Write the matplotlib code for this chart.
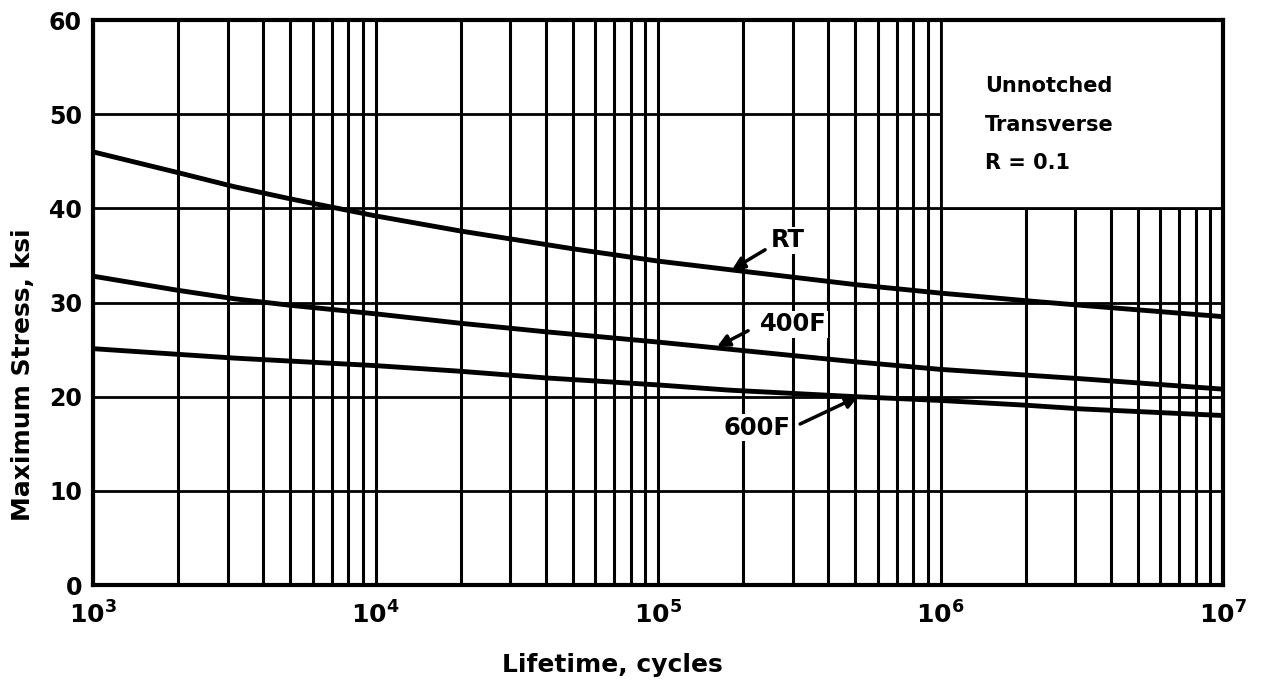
import numpy as np
import matplotlib
matplotlib.use("Agg")
import matplotlib.pyplot as plt
from matplotlib.patches import Rectangle

plt.rcParams['font.family'] = ['DejaVu Sans']
plt.rcParams['font.weight'] = 'bold'
plt.rcParams['mathtext.fontset'] = 'custom'
plt.rcParams['mathtext.rm'] = 'DejaVu Sans:bold'
plt.rcParams['mathtext.default'] = 'rm'

# curves (log10 of cycles, ksi)
rt_logn = [3.0, 3.3, 3.5, 3.7, 4.0, 4.3, 4.7, 5.0, 5.25, 5.7, 6.0, 6.3, 6.5, 7.0]
rt_ksi = [46.0, 43.8, 42.3, 41.0, 39.2, 37.6, 35.7, 34.4, 33.5, 31.9, 31.0, 30.2, 29.7, 28.5]

f400_logn = [3.0, 3.3, 3.5, 3.7, 4.0, 4.3, 4.6, 5.0, 5.3, 5.7, 6.0, 6.3, 6.5, 7.0]
f400_ksi = [32.8, 31.3, 30.4, 29.7, 28.8, 27.8, 26.9, 25.8, 24.9, 23.7, 22.9, 22.3, 21.9, 20.8]

f600_logn = [3.0, 3.3, 3.5, 4.0, 4.3, 4.6, 5.0, 5.25, 5.7, 6.0, 6.3, 6.5, 7.0]
f600_ksi = [25.1, 24.5, 24.1, 23.3, 22.7, 22.0, 21.25, 20.7, 20.0, 19.6, 19.1, 18.7, 18.0]

# label text, text position, arrow tail, arrow head (log10 N, ksi)
labels = ['RT', '400F', '600F']
label_pos = [(5.46, 36.6), (5.478, 27.7), (5.35, 16.7)]
arrow_tail = [(5.379, 35.6), (5.319, 27.0), (5.503, 17.1)]
arrow_head = [(5.262, 33.5), (5.209, 25.3), (5.708, 20.0)]

box_lines = ['Unnotched', 'Transverse', 'R = 0.1']
box_y = [53.0, 48.8, 44.8]

fig = plt.figure(figsize=(12.67, 6.86), dpi=100)
ax = fig.add_axes([0.0734, 0.1472, 0.8919, 0.8236])

ax.set_xscale('log')
ax.set_xlim(1e3, 1e7)
ax.set_ylim(0, 60)

ax.set_axisbelow(True)
ax.set_yticks(np.arange(0, 61, 10))
ax.set_xticks([1e3, 1e4, 1e5, 1e6, 1e7])
ax.set_xticklabels([r'$10^{%d}$' % e for e in range(3, 8)])
ax.xaxis.set_minor_locator(matplotlib.ticker.LogLocator(base=10, subs=np.arange(2, 10)))
ax.xaxis.set_minor_formatter(matplotlib.ticker.NullFormatter())
ax.grid(True, which='both', axis='x', color='black', lw=2.2)
ax.grid(True, which='major', axis='y', color='black', lw=2.0)
ax.tick_params(which='both', length=0)
ax.tick_params(axis='y', labelsize=17, pad=8)
ax.tick_params(axis='x', labelsize=18, pad=12)
for s in ax.spines.values():
    s.set_linewidth(3)

# blank block for the notes in the upper right
ax.add_patch(Rectangle((1e6, 40), 9e6, 20, facecolor='white', edgecolor='black',
                       lw=2.0, zorder=1))
for t, yy in zip(box_lines, box_y):
    ax.text(10 ** 6.157, yy, t, fontsize=15, fontweight='bold', va='center', ha='left', zorder=3)

ax.plot(10 ** np.array(rt_logn), rt_ksi, color='black', lw=3.5, zorder=2)
ax.plot(10 ** np.array(f400_logn), f400_ksi, color='black', lw=3.5, zorder=2)
ax.plot(10 ** np.array(f600_logn), f600_ksi, color='black', lw=3.5, zorder=2)

for lab, p, tl, hd in zip(labels, label_pos, arrow_tail, arrow_head):
    ax.text(10 ** p[0], p[1], lab, fontsize=17.5, fontweight='bold', ha='center', va='center',
            bbox=dict(facecolor='white', edgecolor='none', pad=1), zorder=3)
    ax.annotate('', xy=(10 ** hd[0], hd[1]), xytext=(10 ** tl[0], tl[1]),
                arrowprops=dict(arrowstyle='-|>', color='black', lw=2.5, mutation_scale=18,
                                shrinkA=0, shrinkB=0), zorder=3)

ax.set_xlabel('Lifetime, cycles', fontsize=18, fontweight='bold')
ax.set_ylabel('Maximum Stress, ksi', fontsize=18, fontweight='bold')
ax.xaxis.set_label_coords(0.46, -0.12)
ax.yaxis.set_label_coords(-0.051, 0.372)

fig.savefig('out.png', dpi=100, facecolor='white')
